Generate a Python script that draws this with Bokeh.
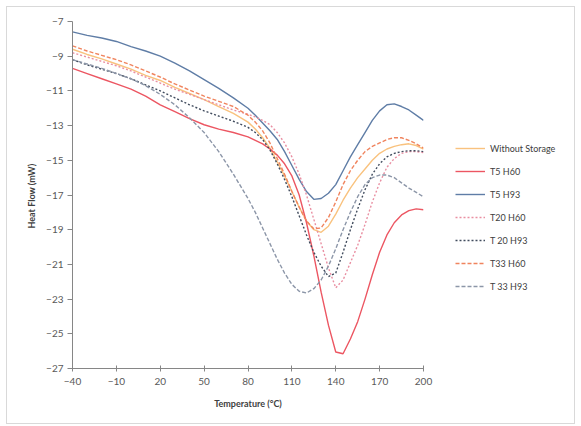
from bokeh.plotting import figure
from bokeh.layouts import row
from bokeh.models import Legend, LegendItem, FixedTicker, Range1d
from bokeh.embed import file_html
from bokeh.resources import INLINE

temperature = [-40, -30, -20, -10, 0, 10, 20, 30, 40, 50, 60, 70, 80,
               85, 90, 95, 100, 105, 110, 115, 120, 125, 130, 135, 140,
               145, 150, 155, 160, 165, 170, 175, 180, 185, 190, 195, 200]

without_storage = [-8.6, -8.9, -9.15, -9.45, -9.75, -10.1, -10.4, -10.8, -11.15, -11.5, -11.9, -12.3, -12.8,
                   -13.2, -13.7, -14.3, -15.1, -15.9, -16.8, -17.7, -18.5, -19.0, -19.15, -18.8, -18.1,
                   -17.3, -16.6, -16.0, -15.5, -15.0, -14.6, -14.35, -14.2, -14.1, -14.05, -14.15, -14.35]
t5_h60 = [-9.7, -10.0, -10.3, -10.6, -10.9, -11.3, -11.8, -12.2, -12.6, -12.95, -13.2, -13.4, -13.65,
          -13.85, -14.05, -14.35, -14.7, -15.2, -15.9, -17.0, -18.6, -20.5, -22.6, -24.5, -26.05,
          -26.15, -25.3, -24.3, -23.0, -21.6, -20.3, -19.3, -18.6, -18.15, -17.9, -17.8, -17.85]
t5_h93 = [-7.6, -7.8, -7.95, -8.15, -8.45, -8.7, -9.0, -9.4, -9.85, -10.35, -10.85, -11.4, -12.0,
          -12.4, -12.85, -13.3, -13.8, -14.5, -15.3, -16.1, -16.8, -17.25, -17.2, -16.9, -16.4,
          -15.6, -14.8, -14.1, -13.4, -12.7, -12.15, -11.8, -11.75, -11.9, -12.1, -12.4, -12.7]
t20_h60 = [-8.8, -9.05, -9.3, -9.55, -9.85, -10.2, -10.55, -10.9, -11.2, -11.5, -11.8, -12.1, -12.35,
           -12.5, -12.7, -12.95, -13.4, -14.0, -14.8, -15.8, -17.0, -18.4, -19.8, -21.2, -22.35,
           -21.9, -20.9, -19.9, -18.7, -17.4, -16.3, -15.4, -14.9, -14.6, -14.5, -14.5, -14.55]
t20_h93 = [-9.2, -9.5, -9.75, -10.0, -10.3, -10.65, -11.0, -11.4, -11.8, -12.15, -12.45, -12.75, -13.1,
           -13.4, -13.8, -14.4, -15.2, -16.1, -17.1, -18.2, -19.3, -20.3, -21.1, -21.7, -21.5,
           -20.3, -19.0, -17.8, -16.7, -15.8, -15.2, -14.8, -14.6, -14.5, -14.45, -14.45, -14.5]
t33_h60 = [-8.4, -8.7, -8.95, -9.2, -9.5, -9.85, -10.2, -10.6, -10.95, -11.3, -11.6, -11.9, -12.4,
           -12.8, -13.3, -14.0, -14.9, -15.8, -16.8, -17.7, -18.5, -18.95, -18.9, -18.3, -17.4,
           -16.4, -15.6, -15.0, -14.5, -14.2, -14.0, -13.8, -13.7, -13.7, -13.85, -14.05, -14.3]
t33_h93 = [-9.2, -9.45, -9.7, -10.0, -10.3, -10.7, -11.2, -11.8, -12.55, -13.4, -14.5, -15.8, -17.2,
           -18.0, -18.9, -19.8, -20.7, -21.5, -22.15, -22.55, -22.65, -22.4, -21.9, -21.1, -20.1,
           -19.0, -18.0, -17.1, -16.4, -16.0, -15.85, -15.85, -16.0, -16.3, -16.6, -16.85, -17.1]

series_names = ["Without Storage", "T5 H60", "T5 H93", "T20 H60", "T 20 H93", "T33 H60", "T 33 H93"]
series_values = [without_storage, t5_h60, t5_h93, t20_h60, t20_h93, t33_h60, t33_h93]
series_colors = ["#F9C27E", "#EC5662", "#5F7DA6", "#E98FA2", "#414C5E", "#F0845E", "#8C96A8"]
series_dashes = ["solid", "solid", "solid", "2 2", "2 2", "4 2", "4 2"]

x_ticks = [-40, -10, 20, 50, 80, 110, 140, 170, 200]
y_ticks = [-7, -9, -11, -13, -15, -17, -19, -21, -23, -25, -27]

# main chart
p = figure(width=436, height=416, output_backend="svg", toolbar_location=None,
           x_range=Range1d(-40, 200), y_range=Range1d(-27, -7),
           min_border_left=65, min_border_right=20, min_border_top=14, min_border_bottom=55)
p.outline_line_color = None
p.xgrid.visible = False
p.ygrid.visible = False
p.background_fill_color = "white"
p.border_fill_color = "white"

for name, vals, col, dash in zip(series_names, series_values, series_colors, series_dashes):
    p.line(temperature, vals, line_color=col, line_width=1.4, line_dash=dash)

for ax in (p.xaxis[0], p.yaxis[0]):
    ax.axis_line_color = "#868686"
    ax.major_tick_line_color = "#868686"
    ax.minor_tick_line_color = None
    ax.major_label_text_font = "Lato"
    ax.major_label_text_font_size = "10px"
    ax.major_label_text_color = "#595959"
    ax.axis_label_text_font = "Lato"
    ax.axis_label_text_font_size = "9px"
    ax.axis_label_text_font_style = "bold"
    ax.axis_label_text_color = "#404040"

p.xaxis.ticker = FixedTicker(ticks=x_ticks)
p.yaxis.ticker = FixedTicker(ticks=y_ticks)
p.xaxis.major_tick_in = 3
p.xaxis.major_tick_out = 3
p.yaxis.major_tick_in = 0
p.yaxis.major_tick_out = 5
p.xaxis.major_label_standoff = 6
p.yaxis.major_label_standoff = 4
p.xaxis.axis_label = "Temperature (°C)"
p.yaxis.axis_label = "Heat Flow  (mW)"
p.xaxis.axis_label_standoff = 10
p.yaxis.axis_label_standoff = 6

# legend panel (frame aligned with the main chart's frame by the row layout);
# its ranges lie outside the data, so its lines only serve the legend swatches
pl = figure(width=131, height=416, output_backend="svg", toolbar_location=None,
            x_axis_type=None, y_axis_type=None,
            x_range=Range1d(0, 1), y_range=Range1d(0, 1),
            min_border_left=0, min_border_right=0, min_border_top=14, min_border_bottom=55)
pl.outline_line_color = None
pl.xgrid.visible = False
pl.ygrid.visible = False
pl.background_fill_color = "white"
pl.border_fill_color = "white"

items = []
for name, vals, col, dash in zip(series_names, series_values, series_colors, series_dashes):
    r = pl.line(temperature, vals, line_color=col, line_width=1.4, line_dash=dash)
    items.append(LegendItem(label=name, renderers=[r]))

legend = Legend(items=items, location=(12, 72), glyph_width=30, glyph_height=20,
                spacing=3, padding=0, margin=0, label_standoff=5,
                label_text_font="Lato", label_text_font_size="9px", label_text_color="#404040",
                border_line_color=None, background_fill_alpha=0)
pl.add_layout(legend)

layout = row(p, pl, spacing=0)
layout.margin = (7, 7, 3, 7)
layout.styles = {"outline": "1px solid #D9D9D9"}

open("out.html", "w").write(file_html(layout, INLINE))
